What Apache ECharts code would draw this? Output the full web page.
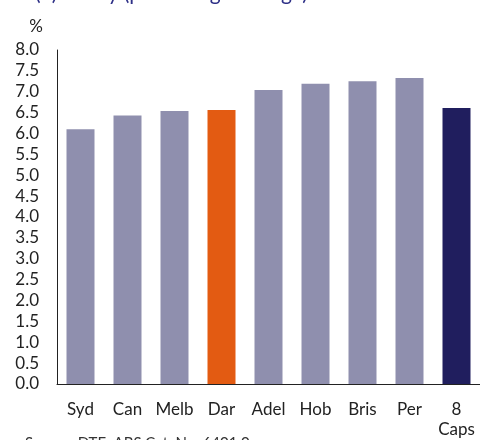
<!DOCTYPE html>
<html>
<head>
<meta charset="utf-8">
<script src="https://cdn.jsdelivr.net/npm/echarts@6/dist/echarts.min.js"></script>
<style>
html,body{margin:0;padding:0;background:#fff;}
#chart{width:480px;height:440px;}
</style>
</head>
<body>
<div id="chart"></div>
<script>
var categories = ['Syd', 'Can', 'Melb', 'Dar', 'Adel', 'Hob', 'Bris', 'Per', '8\nCaps'];
var values = [6.10, 6.43, 6.54, 6.56, 7.04, 7.19, 7.25, 7.33, 6.61];
var barColors = ['#8f8fae', '#8f8fae', '#8f8fae', '#e35b12', '#8f8fae', '#8f8fae', '#8f8fae', '#8f8fae', '#201e5e'];
var yTicks = { min: 0, max: 8, interval: 0.5 };
var titleText = '(b) Yearly (percentage change)';
var sourceText = 'Source: DTF; ABS Cat. No. 6401.0';

var font = 'Lato, "Open Sans", sans-serif';
var chart = echarts.init(document.getElementById('chart'), null, { renderer: 'canvas' });
chart.setOption({
  animation: false,
  backgroundColor: '#ffffff',
  title: [
    { text: titleText, left: 30, top: -22, textStyle: { color: '#2e3087', fontSize: 21, fontWeight: 'normal', fontFamily: font } },
    { text: sourceText, left: 20, top: 431, textStyle: { color: '#333', fontSize: 15, fontWeight: 'normal', fontFamily: font } }
  ],
  grid: { left: 57, right: -3, top: 50, bottom: 56, containLabel: false },
  xAxis: {
    type: 'category',
    data: categories,
    axisLine: { show: true, lineStyle: { color: '#222', width: 1 } },
    axisTick: { show: false },
    axisLabel: { color: '#222', fontSize: 17, fontFamily: font, margin: 16, interval: 0, lineHeight: 20 }
  },
  yAxis: {
    type: 'value',
    min: yTicks.min, max: yTicks.max, interval: yTicks.interval,
    name: '%',
    nameLocation: 'end',
    nameGap: 15,
    nameTextStyle: { color: '#222', fontSize: 17, fontFamily: font, align: 'center', padding: [0, 42, 0, 0] },
    axisLine: { show: true, lineStyle: { color: '#222', width: 1 } },
    axisTick: { show: false },
    splitLine: { show: false },
    axisLabel: { color: '#222', fontSize: 17, fontFamily: font, margin: 18, formatter: function (v) { return v.toFixed(1); } }
  },
  series: [{
    type: 'bar',
    data: values.map(function (v, i) { return { value: v, itemStyle: { color: barColors[i] } }; }),
    barWidth: 28
  }]
});
</script>
</body>
</html>
